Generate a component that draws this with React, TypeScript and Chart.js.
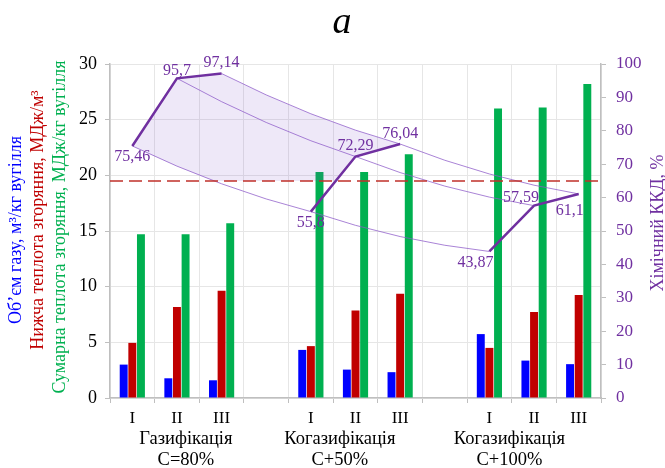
import React, { useEffect, useRef } from 'react';
import { Chart, registerables } from 'chart.js';

Chart.register(...registerables);

// Categories: three regimes per process, blank slots separate the process groups
const categories = ['I', 'II', 'III', '', 'I', 'II', 'III', '', 'I', 'II', 'III'];
const groupNames = ['Газифікація', 'Когазифікація', 'Когазифікація'];
const groupShares = ['C=80%', 'C+50%', 'C+100%'];

// Gas volume, m³/kg of coal
const gasVolume = [3.0, 1.77, 1.59, null, 4.32, 2.55, 2.32, null, 5.74, 3.36, 3.04];
// Lower heating value, MJ/m³
const lowerHeat = [4.95, 8.17, 9.64, null, 4.66, 7.86, 9.37, null, 4.5, 7.72, 9.25];
// Total heating value, MJ/kg of coal
const totalHeat = [14.7, 14.7, 15.7, null, 20.3, 20.3, 21.9, null, 26.0, 26.1, 28.2];
// Chemical efficiency, %
const efficiency = [75.46, 95.7, 97.14, null, 55.8, 72.29, 76.04, null, 43.87, 57.59, 61.1];
// Reference efficiency level, %
const efficiencyLimit = 65;

const BLUE = '#0000FF';
const RED = '#C00000';
const GREEN = '#00B050';
const PURPLE = '#7030A0';
const SERIF = "'Liberation Serif', 'Times New Roman', serif";

// indices of each process group on the category axis
const groups = [
  [0, 1, 2],
  [4, 5, 6],
  [8, 9, 10],
];
// where the two-line group captions sit (fractional category index)
const groupCaptionAt = [1.2, 4.65, 8.45];
// value-label offsets from their points, px
const labelOffsets: [number, number][] = [
  [0, 11], [0, -8], [0, -10.5], [0, 0],
  [0, 11.5], [0, -10.5], [0, -10], [0, 0],
  [-14, 11.5], [-13, -8], [-9, 17],
];

const fmt = (v: number) => String(v).replace('.', ',');

const overlayPlugin = {
  id: 'overlay',
  beforeDatasetDraw(chart: any, args: any) {
    if (args.index !== 0) return;
    const { ctx, chartArea: a, scales } = chart;
    const xs = scales.x;
    const yR = scales.yR;
    const pt = (i: number) => ({ x: xs.getPixelForValue(i), y: yR.getPixelForValue(efficiency[i] as number) });
    const bow = 10;
    const curve = (p: any, q: any, move: boolean) => {
      if (move) ctx.moveTo(p.x, p.y);
      ctx.quadraticCurveTo((p.x + q.x) / 2, (p.y + q.y) / 2 + bow, q.x, q.y);
    };
    const limitY = yR.getPixelForValue(efficiencyLimit);

    // shaded band between the first two groups, above the reference level
    const A = groups[0].map(pt);
    const B = groups[1].map(pt);
    ctx.save();
    ctx.beginPath();
    ctx.rect(a.left, a.top, a.right - a.left, limitY - a.top);
    ctx.clip();
    ctx.beginPath();
    ctx.moveTo(A[0].x, A[0].y);
    ctx.lineTo(A[1].x, A[1].y);
    ctx.lineTo(A[2].x, A[2].y);
    curve(A[2], B[2], false);
    ctx.lineTo(B[1].x, B[1].y);
    ctx.lineTo(B[0].x, B[0].y);
    curve(B[0], A[0], false);
    ctx.closePath();
    ctx.fillStyle = 'rgba(120, 80, 200, 0.13)';
    ctx.fill();
    ctx.restore();

    // thin links between matching regimes of neighbouring groups
    ctx.save();
    ctx.strokeStyle = 'rgba(140, 90, 200, 0.75)';
    ctx.lineWidth = 1;
    for (let g = 0; g < groups.length - 1; g++) {
      for (let k = 0; k < 3; k++) {
        ctx.beginPath();
        curve(pt(groups[g][k]), pt(groups[g + 1][k]), true);
        ctx.stroke();
      }
    }
    ctx.restore();
  },
  afterDatasetsDraw(chart: any) {
    const { ctx, chartArea: a, scales } = chart;
    const xs = scales.x;
    const yR = scales.yR;
    const limitY = yR.getPixelForValue(efficiencyLimit);

    // dashed reference level
    ctx.save();
    ctx.strokeStyle = '#C0302A';
    ctx.lineWidth = 1.5;
    ctx.setLineDash([13, 6]);
    ctx.beginPath();
    ctx.moveTo(a.left, limitY);
    ctx.lineTo(a.right, limitY);
    ctx.stroke();
    ctx.restore();

    // efficiency value labels
    ctx.save();
    ctx.font = `16px ${SERIF}`;
    ctx.fillStyle = PURPLE;
    ctx.textAlign = 'center';
    ctx.textBaseline = 'middle';
    efficiency.forEach((v, i) => {
      if (v === null) return;
      const [dx, dy] = labelOffsets[i];
      ctx.fillText(fmt(v), xs.getPixelForValue(i) + dx, yR.getPixelForValue(v) + dy);
    });
    ctx.restore();
  },
  afterDraw(chart: any) {
    const { ctx, chartArea: a, scales } = chart;
    const xs = scales.x;

    // chart letter
    ctx.save();
    ctx.font = `italic 38px ${SERIF}`;
    ctx.fillStyle = '#000';
    ctx.textAlign = 'center';
    ctx.textBaseline = 'alphabetic';
    ctx.fillText('a', 342, 33);
    ctx.restore();

    // group captions under the category axis
    ctx.save();
    ctx.font = `18.5px ${SERIF}`;
    ctx.fillStyle = '#000';
    ctx.textAlign = 'center';
    ctx.textBaseline = 'alphabetic';
    groupNames.forEach((name, g) => {
      const x = xs.getPixelForValue(groupCaptionAt[g]);
      ctx.fillText(name, x, a.bottom + 45.5);
      ctx.fillText(groupShares[g], x, a.bottom + 67);
    });
    ctx.restore();

    // rotated axis titles
    const midY = (a.top + a.bottom) / 2;
    const vText = (text: string, x: number, y: number, color: string) => {
      ctx.save();
      ctx.translate(x, y);
      ctx.rotate(-Math.PI / 2);
      ctx.font = `18px ${SERIF}`;
      ctx.fillStyle = color;
      ctx.textAlign = 'center';
      ctx.textBaseline = 'middle';
      ctx.fillText(text, 0, 0);
      ctx.restore();
    };
    vText('Об’єм газу, м³/кг вугілля', 16, midY - 1, BLUE);
    vText('Нижча теплота згоряння, МДж/м³', 38, midY - 11, RED);
    vText('Сумарна теплота згоряння, МДж/кг вугілля', 60, midY - 4, GREEN);
    vText('Хімічний ККД, %', 658, midY - 8, PURPLE);
  },
};

export default function App() {
  const canvasRef = useRef<HTMLCanvasElement | null>(null);

  useEffect(() => {
    const canvas = canvasRef.current;
    if (!canvas) return;
    const axisGrey = '#BFBFBF';
    const gridGrey = '#E6E6E6';
    const bar = (label: string, data: (number | null)[], color: string) => ({
      type: 'bar' as const,
      label,
      data,
      backgroundColor: color,
      borderWidth: 0,
      yAxisID: 'y',
      order: 1,
      categoryPercentage: 0.58,
      barPercentage: 0.92,
    });

    const chart = new Chart(canvas, {
      type: 'bar',
      data: {
        labels: categories,
        datasets: [
          {
            type: 'line' as const,
            label: 'Хімічний ККД, %',
            data: efficiency,
            borderColor: PURPLE,
            borderWidth: 2.5,
            pointRadius: 0,
            spanGaps: false,
            yAxisID: 'yR',
            order: 0,
          } as any,
          bar('Об’єм газу', gasVolume, BLUE),
          bar('Нижча теплота згоряння', lowerHeat, RED),
          bar('Сумарна теплота згоряння', totalHeat, GREEN),
        ],
      },
      options: {
        animation: false,
        responsive: false,
        devicePixelRatio: 1,
        layout: { padding: { top: 64, left: 0, right: 0, bottom: 0 } },
        plugins: {
          legend: { display: false },
          tooltip: { enabled: false },
          title: { display: false },
        },
        scales: {
          x: {
            offset: true,
            grid: { offset: true, color: gridGrey, tickColor: axisGrey, tickLength: 5 },
            border: { color: axisGrey, width: 1.5 },
            ticks: {
              color: '#000',
              font: { family: SERIF, size: 17 },
              padding: 5,
              maxRotation: 0,
              autoSkip: false,
            },
            afterFit: (s: any) => {
              s.height = 70;
            },
          },
          y: {
            position: 'left',
            min: 0,
            max: 30,
            grid: { color: gridGrey, tickColor: axisGrey, tickLength: 5 },
            border: { color: axisGrey, width: 1.5 },
            ticks: {
              stepSize: 5,
              color: '#000',
              font: { family: SERIF, size: 18 },
              padding: 8,
            },
            afterFit: (s: any) => {
              s.width = 110;
            },
          },
          yR: {
            position: 'right',
            min: 0,
            max: 100,
            grid: { drawOnChartArea: false, tickColor: axisGrey, tickLength: 5 },
            border: { color: axisGrey, width: 1.5 },
            ticks: {
              stepSize: 10,
              color: PURPLE,
              font: { family: SERIF, size: 17 },
              padding: 10,
            },
            afterFit: (s: any) => {
              s.width = 64;
            },
          },
        },
      } as any,
      plugins: [overlayPlugin],
    });
    return () => chart.destroy();
  }, []);

  return (
    <div style={{ position: 'fixed', left: 0, top: 0, width: 665, height: 468, background: '#fff' }}>
      <canvas ref={canvasRef} width={665} height={468} style={{ width: 665, height: 468, display: 'block' }} />
    </div>
  );
}
